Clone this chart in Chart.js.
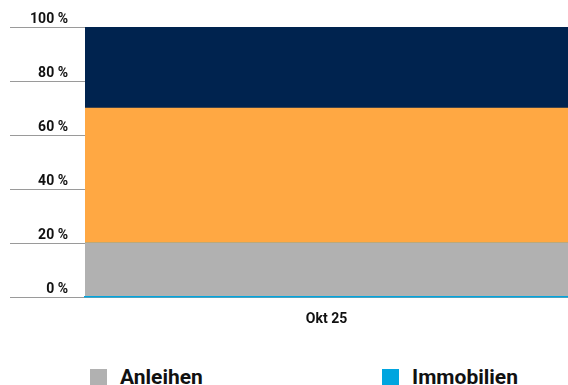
<!DOCTYPE html>
<html>
<head>
<meta charset="utf-8">
<script src="https://cdn.jsdelivr.net/npm/chart.js@4/dist/chart.umd.min.js"></script>
<style>
  html, body { margin: 0; padding: 0; background: #fff; overflow: hidden; }
  body { width: 568px; height: 385px; font-family: Roboto, sans-serif; }
  #wrap { position: relative; width: 568px; height: 346px; }
  #legend {
    display: grid;
    grid-template-columns: 292px auto;
    row-gap: 14px;
    padding-left: 90px;
    margin-top: 23px;
  }
  .item { display: flex; align-items: center; font-size: 21px; font-weight: bold; color: #111; line-height: 17px; }
  .box { width: 17px; height: 17px; margin-right: 13px; flex: none; }
</style>
</head>
<body>
<div id="wrap"><canvas id="allocation"></canvas></div>
<div id="legend"></div>
<script>
// categories and series
const months = ['Okt 25'];
const anleihen = [20];
const immobilien = [0];
const aktien = [50];
const liquiditaet = [30];
const yTicks = [0, 20, 40, 60, 80, 100];

const colors = {
  anleihen: '#b1b1b1',
  immobilien: '#00a5df',
  aktien: '#ffa843',
  liquiditaet: '#00234f'
};

const data = {
  labels: months,
  datasets: [
    { label: 'Anleihen', data: anleihen, backgroundColor: colors.anleihen },
    { label: 'Immobilien', data: immobilien, backgroundColor: colors.immobilien },
    { label: 'Aktien', data: aktien, backgroundColor: colors.aktien },
    { label: 'Liquidität', data: liquiditaet, backgroundColor: colors.liquiditaet }
  ]
};

const config = {
  type: 'bar',
  data,
  options: {
    responsive: true,
    maintainAspectRatio: false,
    animation: false,
    layout: { padding: { left: 10, top: 27, right: 0, bottom: 12 } },
    datasets: {
      bar: { categoryPercentage: 1, barPercentage: 1, borderWidth: 0 }
    },
    plugins: {
      legend: { display: false },
      tooltip: { enabled: false }
    },
    scales: {
      x: {
        stacked: true,
        grid: { display: false },
        border: { display: true, color: colors.immobilien, width: 1.5, z: 1 },
        ticks: {
          padding: 6,
          color: '#111',
          font: { family: 'Roboto', size: 14, weight: 'bold' }
        }
      },
      y: {
        stacked: true,
        min: 0,
        max: 100,
        afterBuildTicks: (scale) => { scale.ticks = yTicks.map(v => ({ value: v })); },
        afterFit: (scale) => { scale.width = 75; },
        grid: { color: '#9a9a9a', lineWidth: 1, tickLength: 75 },
        border: { display: false },
        ticks: {
          padding: -58,
          labelOffset: -8,
          color: '#111',
          font: { family: 'Roboto', size: 14, weight: 'bold' },
          callback: (v) => v + ' %'
        }
      }
    }
  }
};

const allocationChart = new Chart(document.getElementById('allocation'), config);

// legend in two columns below the canvas
const legend = document.getElementById('legend');
allocationChart.data.datasets.forEach(ds => {
  const item = document.createElement('div');
  item.className = 'item';
  const box = document.createElement('span');
  box.className = 'box';
  box.style.background = ds.backgroundColor;
  item.appendChild(box);
  item.appendChild(document.createTextNode(ds.label));
  legend.appendChild(item);
});
</script>
</body>
</html>
